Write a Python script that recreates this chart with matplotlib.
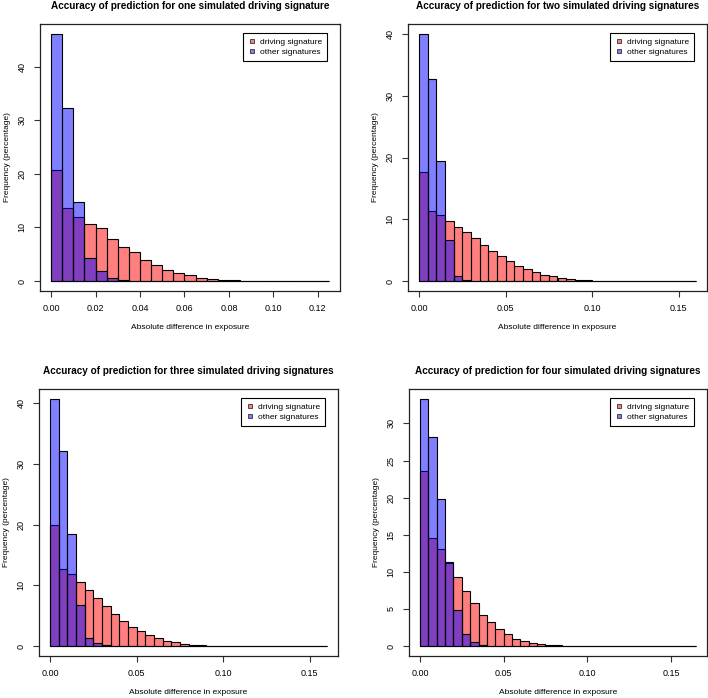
import numpy as np
import matplotlib
matplotlib.use("Agg")
from matplotlib import pyplot as plt
from matplotlib.lines import Line2D

plt.rcParams['font.family'] = ['Liberation Sans', 'DejaVu Sans']

# bin width of the histograms (exposure units)
bin_w = 0.005

titles = ["Accuracy of prediction for one simulated driving signature",
          "Accuracy of prediction for two simulated driving signatures",
          "Accuracy of prediction for three simulated driving signatures",
          "Accuracy of prediction for four simulated driving signatures"]

# frequencies (percentage) per bin
driving_1 = [20.8, 13.7, 12.0, 10.7, 9.9, 7.9, 6.4, 5.5, 4.0, 3.0, 2.1, 1.5, 1.05,
             0.6, 0.35, 0.25, 0.15, 0.08, 0.05, 0.03, 0.02, 0.01, 0.01, 0.01, 0.01]
other_1 = [46.1, 32.3, 14.8, 4.3, 1.8, 0.6, 0.15, 0.05] + [0.0]*17

driving_2 = [17.6, 11.3, 10.7, 9.8, 8.8, 7.9, 6.9, 5.9, 4.9, 4.0, 3.2, 2.5, 1.9, 1.4,
             1.0, 0.75, 0.5, 0.35, 0.2, 0.12, 0.07, 0.04, 0.02, 0.01] + [0.0]*8
other_2 = [40.0, 32.7, 19.4, 6.7, 0.9, 0.25, 0.08, 0.02] + [0.0]*24

driving_3 = [20.0, 12.7, 11.8, 10.6, 9.3, 8.0, 6.6, 5.3, 4.2, 3.2, 2.5, 1.8, 1.3, 0.9,
             0.6, 0.4, 0.25, 0.15, 0.1, 0.05, 0.03, 0.02, 0.01] + [0.0]*9
other_3 = [40.7, 32.1, 18.5, 6.7, 1.3, 0.45, 0.15, 0.05] + [0.0]*24

driving_4 = [23.6, 14.6, 13.1, 11.2, 9.3, 7.45, 5.8, 4.2, 3.2, 2.25, 1.6, 1.0, 0.7,
             0.45, 0.3, 0.18, 0.1, 0.06, 0.04, 0.02, 0.01] + [0.0]*12
other_4 = [33.3, 28.1, 19.8, 11.3, 4.85, 1.66, 0.5, 0.15, 0.05] + [0.0]*24

x_ticks = [np.arange(0, 0.121, 0.02), np.arange(0, 0.151, 0.05),
           np.arange(0, 0.151, 0.05), np.arange(0, 0.151, 0.05)]
x_ticklabels = [["0.00", "0.02", "0.04", "0.06", "0.08", "0.10", "0.12"],
                ["0.00", "0.05", "0.10", "0.15"],
                ["0.00", "0.05", "0.10", "0.15"],
                ["0.00", "0.05", "0.10", "0.15"]]
y_ticks = [np.arange(0, 41, 10), np.arange(0, 41, 10),
           np.arange(0, 41, 10), np.arange(0, 31, 5)]

driving = [driving_1, driving_2, driving_3, driving_4]
other = [other_1, other_2, other_3, other_4]

red = (1, 0, 0, 0.5)
blue = (0, 0, 1, 0.5)

W, H = 708, 698
fig = plt.figure(figsize=(W/100, H/100), dpi=100)
# axes boxes in pixels: left, right, top, bottom
boxes = [(40, 340, 24, 291), (408, 707, 24, 291),
         (39, 338, 389, 656), (409, 707, 389, 656)]

for k in range(4):
    l, r, t, b = boxes[k]
    ax = fig.add_axes([l/W, 1-b/H, (r-l)/W, (b-t)/H])
    d = np.array(driving[k])
    o = np.array(other[k])
    edges = np.arange(len(d))*bin_w
    ax.bar(edges, d, width=bin_w, align='edge', color=red, edgecolor='black', linewidth=0.8)
    ax.bar(edges, o, width=bin_w, align='edge', color=blue, edgecolor='black', linewidth=0.8)

    xmax = len(d)*bin_w
    ymax = max(d.max(), o.max())
    ax.set_xlim(-0.04*xmax, 1.04*xmax)
    ax.set_ylim(-0.04*ymax, 1.04*ymax)
    ax.set_xticks(x_ticks[k])
    ax.set_xticklabels(x_ticklabels[k])
    ax.set_yticks(y_ticks[k])
    ax.set_yticklabels([str(v) for v in y_ticks[k]], rotation=90, va='center')
    ax.tick_params(length=4.5, width=0.8, labelsize=6.5, pad=5, color='#333333')
    for s in ax.spines.values():
        s.set_linewidth(0.9)
        s.set_color('#222222')

    ax.set_title(titles[k], fontsize=7.2, fontweight='bold', pad=11)
    ax.set_xlabel("Absolute difference in exposure", fontsize=6, labelpad=8)
    ax.set_ylabel("Frequency (percentage)", fontsize=6, labelpad=5)

    handles = [Line2D([], [], ls='none', marker='s', markersize=3.2, markerfacecolor=red,
                      markeredgecolor='#333333', markeredgewidth=0.6),
               Line2D([], [], ls='none', marker='s', markersize=3.2, markerfacecolor=blue,
                      markeredgecolor='#333333', markeredgewidth=0.6)]
    leg = ax.legend(handles, ["driving signature", "other signatures"], loc='upper right',
                    bbox_to_anchor=(1 - 13/(r-l), 1 - 9/(b-t)), fontsize=6, fancybox=False,
                    framealpha=1, edgecolor='black', borderpad=0.6, handlelength=0.8,
                    handletextpad=0.6, labelspacing=0.3, borderaxespad=0)
    leg.get_frame().set_linewidth(0.8)

fig.savefig("out.png", dpi=100)
